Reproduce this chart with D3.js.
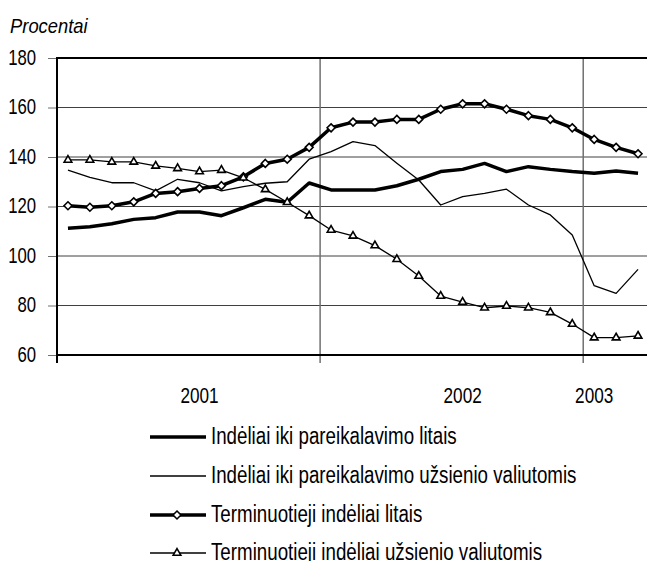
<!DOCTYPE html>
<html>
<head>
<meta charset="utf-8">
<script src="https://cdn.jsdelivr.net/npm/d3@7"></script>
<style>
  body { margin: 0; background: #fff; }
  svg { display: block; }
  text { font-family: "Liberation Sans", Arial, sans-serif; fill: #000; }
</style>
</head>
<body>
<div id="chart"></div>
<script>
// Deposit growth indices, monthly 2001-01 .. 2003-03
const months = d3.range(27).map(i => {
  const yr = 2001 + Math.floor(i / 12), m = i % 12 + 1;
  return `${yr}-${String(m).padStart(2, "0")}`;
});

const demandLitas = [111.2, 111.8, 113.0, 114.8, 115.5, 117.8, 117.8, 116.3, 119.5, 122.9, 121.7, 129.5,
  126.7, 126.7, 126.7, 128.4, 131.0, 134.1, 135.0, 137.4, 134.1, 136.1, 135.0, 134.1, 133.4, 134.3, 133.4];
const demandForeign = [134.7, 131.8, 129.6, 129.6, 126.3, 131.0, 129.6, 126.3, 128.0, 129.4, 130.0, 139.1,
  142.2, 146.2, 144.6, 137.5, 130.7, 120.6, 124.0, 125.3, 127.0, 120.6, 116.6, 108.5, 88.0, 84.9, 94.6];
const timeLitas = [120.3, 119.7, 120.3, 121.9, 125.3, 126.0, 127.3, 128.4, 132.0, 137.4, 139.1, 143.9,
  151.8, 154.1, 154.1, 155.2, 155.2, 159.3, 161.5, 161.5, 159.3, 156.7, 155.2, 151.8, 147.1, 143.9, 141.3];
const timeForeign = [138.8, 138.8, 138.0, 138.0, 136.4, 135.4, 134.1, 134.7, 131.6, 126.9, 121.7, 116.3,
  110.5, 108.1, 104.2, 98.7, 91.9, 83.8, 81.4, 79.1, 79.8, 79.1, 77.2, 72.5, 67.0, 67.0, 67.7];

const seriesNames = [
  "Indėliai iki pareikalavimo litais",
  "Indėliai iki pareikalavimo užsienio valiutomis",
  "Terminuotieji indėliai litais",
  "Terminuotieji indėliai užsienio valiutomis"
];
const yTicks = [60, 80, 100, 120, 140, 160, 180];
const yearLabels = ["2001", "2002", "2003"];
const yearLabelMonths = ["2001-07", "2002-07", "2003-01"];
const yearStarts = ["2001-01", "2002-01", "2003-01"];

const width = 647, height = 561;
const plotLeft = 57, plotRight = 649, plotTop = 58, plotBottom = 355;

const svg = d3.select("#chart").append("svg")
    .attr("width", width)
    .attr("height", height);

const x = d3.scaleBand().domain(months).range([plotLeft, plotRight]).padding(0);
const y = d3.scaleLinear().domain([60, 180]).range([plotBottom, plotTop]);
const cx = d => x(d) + x.bandwidth() / 2;

// condensed text (the original uses a narrow face)
function narrow(sel, tx, ty, sx) {
  sel.attr("x", 0).attr("y", 0)
     .attr("transform", `translate(${tx},${ty}) scale(${sx},1)`);
}

// horizontal grid
svg.append("g")
  .selectAll("line")
  .data(yTicks.slice(1, -1))
  .join("line")
    .attr("x1", plotLeft).attr("x2", width)
    .attr("y1", d => y(d)).attr("y2", d => y(d))
    .attr("stroke", "#404040")
    .attr("stroke-width", 1);

// year separators (vertical grid + ticks below)
svg.append("g")
  .selectAll("line")
  .data(yearStarts.slice(1))
  .join("line")
    .attr("x1", d => x(d)).attr("x2", d => x(d))
    .attr("y1", plotTop).attr("y2", plotBottom + 8)
    .attr("stroke", "#707070")
    .attr("stroke-width", 1.5);

// y axis
const yAxis = svg.append("g")
    .attr("transform", `translate(${plotLeft},0)`)
    .call(d3.axisLeft(y).tickValues(yTicks).tickSize(9).tickPadding(12))
    .call(g => g.select(".domain").remove());
yAxis.attr("font-family", null).attr("font-size", null);
yAxis.selectAll(".tick line").attr("stroke", "#707070");
yAxis.selectAll(".tick text")
    .attr("font-size", 22)
    .attr("dy", null)
    .each(function () { narrow(d3.select(this), -21, 6, 0.76); });

// frame: left, top, bottom
svg.append("line").attr("x1", plotLeft).attr("x2", plotLeft).attr("y1", plotTop - 1).attr("y2", plotBottom + 8)
    .attr("stroke", "#000").attr("stroke-width", 2);
svg.append("line").attr("x1", plotLeft).attr("x2", width).attr("y1", plotTop).attr("y2", plotTop)
    .attr("stroke", "#000").attr("stroke-width", 2);
svg.append("line").attr("x1", plotLeft).attr("x2", width).attr("y1", plotBottom).attr("y2", plotBottom)
    .attr("stroke", "#000").attr("stroke-width", 2);

// year labels
svg.append("g")
  .selectAll("text")
  .data(yearLabels)
  .join("text")
    .attr("text-anchor", "middle")
    .attr("font-size", 22)
    .text(d => d)
    .each(function (d, i) { narrow(d3.select(this), cx(yearLabelMonths[i]), 403, 0.78); });

// axis title
svg.append("text")
    .attr("font-size", 20)
    .attr("font-style", "italic")
    .text("Procentai")
    .call(narrow, 10, 33, 0.92);

const line = d3.line().x((d, i) => cx(months[i])).y(d => y(d));

const styles = [
  { data: demandLitas, width: 3.5, marker: null },
  { data: demandForeign, width: 1.3, marker: null },
  { data: timeLitas, width: 3.5, marker: "diamond" },
  { data: timeForeign, width: 1.3, marker: "triangle" }
];

const symbolPath = m => m === "diamond"
    ? d3.symbol(d3.symbolDiamond2, 40)()
    : d3.symbol(d3.symbolTriangle2, 42)();

styles.forEach(s => {
  svg.append("path")
      .datum(s.data)
      .attr("fill", "none")
      .attr("stroke", "#000")
      .attr("stroke-width", s.width)
      .attr("stroke-linejoin", "round")
      .attr("d", line);
  if (s.marker) {
    svg.append("g")
      .selectAll("path")
      .data(s.data)
      .join("path")
        .attr("transform", (d, i) => `translate(${cx(months[i])},${y(d)})`)
        .attr("d", symbolPath(s.marker))
        .attr("fill", "#fff")
        .attr("stroke", "#000")
        .attr("stroke-width", 1.6);
  }
});

// legend
const legendRows = [437, 476, 515, 553];
const lg = svg.append("g");
seriesNames.forEach((name, i) => {
  const s = styles[i], ly = legendRows[i];
  lg.append("line")
      .attr("x1", 150).attr("x2", 206)
      .attr("y1", ly).attr("y2", ly)
      .attr("stroke", "#000")
      .attr("stroke-width", s.width);
  if (s.marker) {
    lg.append("path")
        .attr("transform", `translate(177,${ly})`)
        .attr("d", symbolPath(s.marker))
        .attr("fill", "#fff")
        .attr("stroke", "#000")
        .attr("stroke-width", 1.6);
  }
  lg.append("text")
      .attr("font-size", 23)
      .text(name)
      .call(narrow, 211, ly + 6.5, 0.815);
});
</script>
</body>
</html>
